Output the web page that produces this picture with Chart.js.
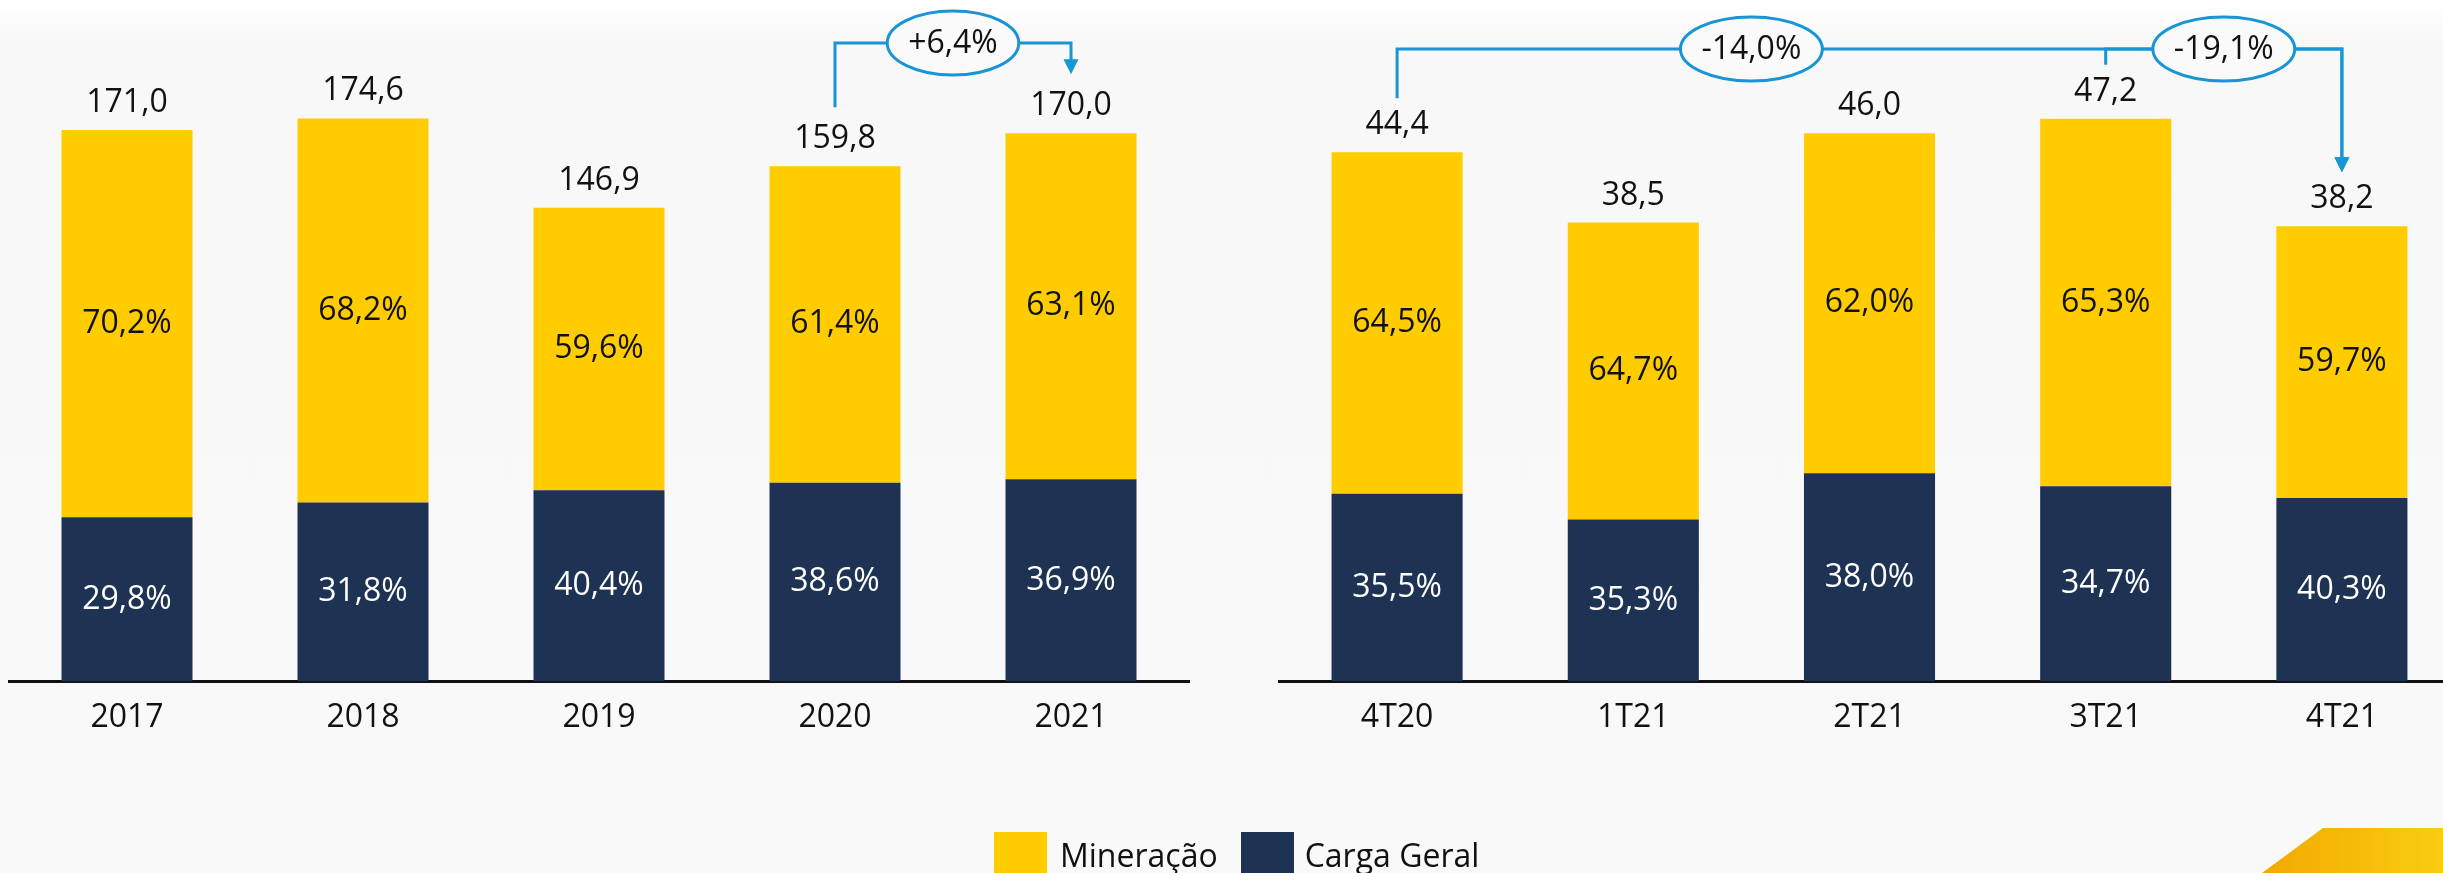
<!DOCTYPE html>
<html>
<head>
<meta charset="utf-8">
<title>Volume transportado</title>
<script src="https://cdn.jsdelivr.net/npm/chart.js@4.4.1/dist/chart.umd.min.js"></script>
<style>
    html, body {
        margin: 0;
        padding: 0;
        width: 2443px;
        height: 873px;
        overflow: hidden;
        background: linear-gradient(#ffffff 0px, #f8f8f9 40px, #f9f9fa 100%);
        font-family: 'Open Sans', sans-serif;
    }
    #left-wrap { position: absolute; left: 0; top: 0; width: 1200px; height: 873px; }
    #right-wrap { position: absolute; left: 1250px; top: 0; width: 1230px; height: 873px; }
    .legend {
        position: absolute;
        left: 994px;
        top: 832px;
        display: flex;
        font-size: 32px;
        color: #111;
    }
    .legend-item { display: flex; align-items: flex-start; }
    .legend-box { width: 53px; height: 53px; }
    .legend-text { line-height: 53px; position: relative; top: -4px; }
    .corner {
        position: absolute;
        left: 2262px;
        top: 828px;
        width: 181px;
        height: 45px;
        background: linear-gradient(to right, #f3a900, #f8cd12);
        clip-path: polygon(61px 0, 100% 0, 100% 100%, 0 100%);
    }
</style>
</head>
<body>
<div id="left-wrap"><canvas id="year-chart"></canvas></div>
<div id="right-wrap"><canvas id="quarter-chart"></canvas></div>
<div class="legend" id="legend"></div>
<div class="corner"></div>

<script>
// Annual volumes (totals on top of bars) and mix shares
const yearLabels = ['2017', '2018', '2019', '2020', '2021'];
const yearTotals = [171.0, 174.6, 146.9, 159.8, 170.0];
const yearMiningShare = [70.2, 68.2, 59.6, 61.4, 63.1];
const yearGeneralShare = [29.8, 31.8, 40.4, 38.6, 36.9];

// Quarterly volumes
const quarterLabels = ['4T20', '1T21', '2T21', '3T21', '4T21'];
const quarterTotals = [44.4, 38.5, 46.0, 47.2, 38.2];
const quarterMiningShare = [64.5, 64.7, 62.0, 65.3, 59.7];
const quarterGeneralShare = [35.5, 35.3, 38.0, 34.7, 40.3];

// Variation callouts (from bar -> to bar, bubble sits at "at")
const yearChanges = [{ from: 3, to: 4, at: 3.5, text: '+6,4%' }];
const quarterChanges = [
    { from: 0, to: 4, at: 1.5, text: '-14,0%' },
    { from: 3, to: 4, at: 3.5, text: '-19,1%' }
];

const seriesNames = ['Mineração', 'Carga Geral'];
const MINING_COLOR = '#ffcc00';
const GENERAL_COLOR = '#1e3253';
const CALLOUT_COLOR = '#1795d4';
const FONT = '32px "Open Sans"';

function fmt(v) {
    return v.toFixed(1).replace('.', ',');
}

function part(totals, shares) {
    return totals.map((t, i) => t * shares[i] / 100);
}

const barLabels = {
    id: 'barLabels',
    afterDatasetsDraw(chart, args, opts) {
        const ctx = chart.ctx;
        const xs = chart.scales.x;
        const ys = chart.scales.y;
        ctx.save();
        ctx.font = FONT;
        ctx.textAlign = 'center';
        ctx.textBaseline = 'middle';

        // share labels inside each segment
        chart.data.datasets.forEach((ds, d) => {
            const meta = chart.getDatasetMeta(d);
            meta.data.forEach((bar, i) => {
                ctx.fillStyle = ds.textColor;
                ctx.fillText(fmt(ds.shares[i]) + '%', bar.x, (bar.y + bar.base) / 2);
            });
        });

        // totals above bars
        ctx.fillStyle = '#111';
        opts.totals.forEach((t, i) => {
            ctx.fillText(fmt(t), xs.getPixelForValue(i), ys.getPixelForValue(t) - 27);
        });

        // callout brackets
        const by = opts.bracketY;
        ctx.strokeStyle = CALLOUT_COLOR;
        ctx.fillStyle = CALLOUT_COLOR;
        ctx.lineWidth = 3;
        opts.changes.forEach(c => {
            const x1 = xs.getPixelForValue(c.from);
            const x2 = xs.getPixelForValue(c.to);
            const y1 = ys.getPixelForValue(opts.totals[c.from]) - opts.gap;
            const tip = ys.getPixelForValue(opts.totals[c.to]) - opts.gap;
            ctx.beginPath();
            ctx.moveTo(x1, y1);
            ctx.lineTo(x1, by);
            ctx.lineTo(x2, by);
            ctx.lineTo(x2, tip - 14);
            ctx.stroke();
            ctx.beginPath();
            ctx.moveTo(x2 - 7.5, tip - 15);
            ctx.lineTo(x2 + 7.5, tip - 15);
            ctx.lineTo(x2, tip);
            ctx.closePath();
            ctx.fill();
        });
        opts.changes.forEach(c => {
            const cx = xs.getPixelForValue(c.at);
            const w = ctx.measureText(c.text).width + 42;
            ctx.beginPath();
            ctx.ellipse(cx, by, w / 2, 32, 0, 0, Math.PI * 2);
            ctx.fillStyle = '#fafafa';
            ctx.fill();
            ctx.stroke();
            ctx.fillStyle = '#111';
            ctx.fillText(c.text, cx, by + 1);
        });
        ctx.restore();
    }
};

function makeChart(id, labels, totals, miningShare, generalShare, changes, yMax, padding, bracketY, gap) {
    const ctx = document.getElementById(id).getContext('2d');
    return new Chart(ctx, {
        type: 'bar',
        data: {
            labels: labels,
            datasets: [
                {
                    label: seriesNames[1],
                    data: part(totals, generalShare),
                    shares: generalShare,
                    textColor: '#ffffff',
                    backgroundColor: GENERAL_COLOR,
                    barPercentage: 0.555,
                    categoryPercentage: 1.0
                },
                {
                    label: seriesNames[0],
                    data: part(totals, miningShare),
                    shares: miningShare,
                    textColor: '#111111',
                    backgroundColor: MINING_COLOR,
                    barPercentage: 0.555,
                    categoryPercentage: 1.0
                }
            ]
        },
        options: {
            responsive: true,
            maintainAspectRatio: false,
            animation: false,
            layout: { padding: padding },
            scales: {
                x: {
                    stacked: true,
                    grid: { display: false, drawTicks: false },
                    border: { display: true, color: '#111', width: 3 },
                    ticks: {
                        color: '#111',
                        padding: 17,
                        font: { family: 'Open Sans', size: 32 }
                    }
                },
                y: {
                    stacked: true,
                    display: false,
                    min: 0,
                    max: yMax
                }
            },
            plugins: {
                legend: { display: false },
                tooltip: { enabled: false },
                barLabels: {
                    totals: totals,
                    changes: changes,
                    bracketY: bracketY,
                    gap: gap
                }
            }
        },
        plugins: [barLabels]
    });
}

function buildLegend() {
    const legend = document.getElementById('legend');
    const colors = [MINING_COLOR, GENERAL_COLOR];
    seriesNames.forEach((name, i) => {
        const item = document.createElement('div');
        item.className = 'legend-item';
        item.style.marginRight = i === 0 ? '23px' : '0';
        item.innerHTML = `<div class="legend-box" style="background:${colors[i]}"></div>
            <span class="legend-text" style="margin-left:${i === 0 ? 13 : 11}px">${name}</span>`;
        legend.appendChild(item);
    });
}

document.addEventListener('DOMContentLoaded', function() {
    makeChart('year-chart', yearLabels, yearTotals, yearMiningShare, yearGeneralShare,
        yearChanges, 211.3, { left: 9, right: 11, top: 0, bottom: 119 }, 43, 59);
    makeChart('quarter-chart', quarterLabels, quarterTotals, quarterMiningShare, quarterGeneralShare,
        quarterChanges, 57.17, { left: 29, right: 20, top: 0, bottom: 119 }, 49, 54);
    buildLegend();
});
</script>
</body>
</html>
